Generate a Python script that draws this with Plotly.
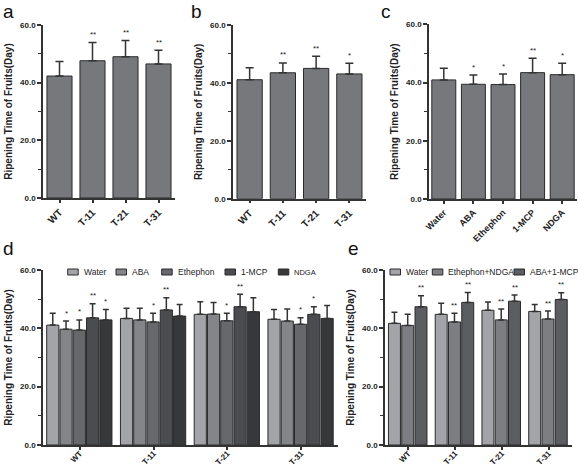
import plotly.graph_objects as go

W, H = 578, 467

# ---------------- data ----------------
lines = ["WT", "T-11", "T-21", "T-31"]
treat_c = ["Water", "ABA", "Ethephon", "1-MCP", "NDGA"]

a_val = [42.3, 47.6, 49.0, 46.5]
a_err = [5.0, 6.3, 5.6, 4.7]
a_sig = ["", "**", "**", "**"]

b_val = [41.1, 43.5, 45.0, 43.1]
b_err = [4.1, 3.4, 4.2, 3.7]
b_sig = ["", "**", "**", "*"]

c_val = [40.9, 39.4, 39.3, 43.4, 42.7]
c_err = [4.0, 3.2, 3.6, 4.9, 3.9]
c_sig = ["", "*", "*", "**", "*"]

d_water = [41.1, 43.4, 44.8, 43.1]
d_water_err = [4.1, 3.5, 4.3, 3.4]
d_water_sig = ["", "", "", ""]
d_aba = [39.7, 42.9, 44.9, 42.5]
d_aba_err = [2.8, 4.0, 4.0, 4.1]
d_aba_sig = ["*", "", "", ""]
d_eth = [39.4, 42.2, 42.6, 41.4]
d_eth_err = [3.5, 3.0, 2.6, 2.2]
d_eth_sig = ["*", "*", "*", "*"]
d_mcp = [43.6, 46.3, 47.4, 44.8]
d_mcp_err = [4.8, 4.2, 4.3, 2.6]
d_mcp_sig = ["**", "**", "**", "*"]
d_ndga = [42.9, 44.2, 45.7, 43.4]
d_ndga_err = [3.6, 4.0, 4.8, 4.4]
d_ndga_sig = ["*", "", "", ""]

e_water = [41.7, 44.8, 46.2, 45.8]
e_water_err = [3.8, 3.8, 2.8, 2.4]
e_water_sig = ["", "", "", ""]
e_ethndga = [41.0, 42.2, 42.9, 43.2]
e_ethndga_err = [3.8, 3.0, 3.7, 2.7]
e_ethndga_sig = ["", "**", "**", "**"]
e_abamcp = [47.4, 48.9, 49.3, 49.9]
e_abamcp_err = [3.8, 3.4, 2.1, 2.3]
e_abamcp_sig = ["**", "**", "**", "**"]

y_ticks = [0, 20, 40, 60]
y_ticklabels = ["0.0", "20.0", "40.0", "60.0"]
ytitle = "Ripening Time of Fruits(Day)"

# ---------------- styling ----------------
FONT = "Liberation Sans, Arial, sans-serif"
AX = "#333333"
OUTLINE = "#2a2a2a"
single_col = "#76787b"
d_cols = ["#a3a4a7", "#848588", "#67686b", "#4b4c4f", "#37383a"]
e_cols = ["#a3a4a7", "#7d7e81", "#5c5d60"]


def px_x(p):
    return p / W


def px_y(p):
    return 1 - p / H


panels = {
    # name: (x0, x1, ytop(60), ybottom(0), xtick font size, label standoff)
    "a": (43, 175, 25, 198, 10, 0),
    "b": (233, 366, 25, 198.7, 10, 0),
    "c": (429, 577, 24.3, 199, 9, 0),
    "d": (43, 338, 270, 445, 8, -4),
    "e": (385, 572, 270, 445, 8, -4),
}
axis_ids = {"a": "", "b": "2", "c": "3", "d": "4", "e": "5"}

fig = go.Figure()
annotations = []
shapes = []


def add_bars(panel, cats, vals, errs, sigs, color, name, width, offset, capw=4):
    i = axis_ids[panel]
    fig.add_trace(go.Bar(
        x=cats, y=vals, name=name,
        xaxis="x" + i, yaxis="y" + i,
        width=width, offset=offset,
        marker=dict(color=color, line=dict(color=OUTLINE, width=1)),
        error_y=dict(type="data", symmetric=False, array=errs,
                     arrayminus=[0] * len(errs), color=AX,
                     thickness=1.5, width=capw),
        showlegend=False,
    ))
    for k, (c, v, e, s) in enumerate(zip(cats, vals, errs, sigs)):
        if s:
            annotations.append(dict(
                x=k + offset + width / 2, y=v + e + 0.5,
                xref="x" + i, yref="y" + i,
                text=s, showarrow=False, yanchor="bottom",
                font=dict(family=FONT, size=8, color="#222"),
            ))


# single-series panels
add_bars("a", lines, a_val, a_err, a_sig, single_col, "a", 0.76, -0.38)
add_bars("b", lines, b_val, b_err, b_sig, single_col, "b", 0.76, -0.38)
add_bars("c", treat_c, c_val, c_err, c_sig, single_col, "c", 0.81, -0.405)

# grouped panel d
d_series = [
    ("Water", d_water, d_water_err, d_water_sig),
    ("ABA", d_aba, d_aba_err, d_aba_sig),
    ("Ethephon", d_eth, d_eth_err, d_eth_sig),
    ("1-MCP", d_mcp, d_mcp_err, d_mcp_sig),
    ("NDGA", d_ndga, d_ndga_err, d_ndga_sig),
]
pitch_d = 0.18
for j, (nm, v, e, s) in enumerate(d_series):
    add_bars("d", lines, v, e, s, d_cols[j], nm, 0.165,
             -2.5 * pitch_d + j * pitch_d, capw=3)

# grouped panel e
e_series = [
    ("Water", e_water, e_water_err, e_water_sig),
    ("Ethephon+NDGA", e_ethndga, e_ethndga_err, e_ethndga_sig),
    ("ABA+1-MCP", e_abamcp, e_abamcp_err, e_abamcp_sig),
]
pitch_e = 0.284
for j, (nm, v, e, s) in enumerate(e_series):
    add_bars("e", lines, v, e, s, e_cols[j], nm, 0.256,
             -1.5 * pitch_e + j * pitch_e, capw=3)

# ---------------- legends (drawn as swatches + text) ----------------
d_leg_box_x = [67.7, 116, 161.7, 225, 278.3]
d_leg_font = [8.5, 8.5, 8.5, 8.5, 7.5]
e_leg_box_x = [390, 432.3, 514]


def legend_entries(series, cols, box_xs, fonts, ymid=272, bw=10.5, bh=6):
    for (nm, *_), col, bx, fs in zip(series, cols, box_xs, fonts):
        shapes.append(dict(
            type="rect", xref="paper", yref="paper",
            x0=px_x(bx), x1=px_x(bx + bw),
            y0=px_y(ymid + bh / 2), y1=px_y(ymid - bh / 2),
            fillcolor=col, line=dict(color=OUTLINE, width=1),
        ))
        annotations.append(dict(
            x=px_x(bx + bw + 3.5), y=px_y(ymid), xref="paper", yref="paper",
            xanchor="left", yanchor="middle", text=nm, showarrow=False,
            font=dict(family=FONT, size=fs, color="#222"),
        ))


legend_entries(d_series, d_cols, d_leg_box_x, d_leg_font)
legend_entries(e_series, e_cols, e_leg_box_x, [8.5, 8.5, 8.5])

layout = dict(
    width=W, height=H,
    margin=dict(l=0, r=0, t=0, b=0, autoexpand=False),
    paper_bgcolor="white", plot_bgcolor="white",
    barmode="overlay",
    font=dict(family=FONT, color="#222"),
    showlegend=False,
)

for p, (x0, x1, yt, yb, xfs, xso) in panels.items():
    i = axis_ids[p]
    ncat = 5 if p == "c" else 4
    layout["xaxis" + i] = dict(
        domain=[px_x(x0), px_x(x1)], anchor="y" + i,
        range=[-0.5, ncat - 0.5],
        showline=True, linecolor=AX, linewidth=1.5,
        ticks="outside", ticklen=3, tickcolor=AX, tickwidth=1.5,
        tickangle=-45, showgrid=False, zeroline=False,
        ticklabelstandoff=xso,
        tickfont=dict(family=FONT, size=xfs, color="#222", weight="bold"),
        fixedrange=True,
    )
    layout["yaxis" + i] = dict(
        domain=[px_y(yb), px_y(yt)], anchor="x" + i,
        range=[0, 60],
        tickvals=y_ticks, ticktext=y_ticklabels,
        showline=True, linecolor=AX, linewidth=1.5,
        ticks="outside", ticklen=4, tickcolor=AX, tickwidth=1.5,
        minor=dict(ticks="outside", ticklen=3, tickcolor=AX, tickwidth=1.2,
                   tickvals=[10, 30, 50]),
        showgrid=False, zeroline=False,
        tickfont=dict(family=FONT, size=8, color="#222", weight="bold"),
        title=dict(text=ytitle, standoff=6,
                   font=dict(family=FONT, size=10, color="#222",
                             weight="bold")),
        fixedrange=True,
    )

for letter, xp, yp in [("a", 2, 0), ("b", 190, 0), ("c", 380, 0),
                       ("d", 2, 237), ("e", 347, 237)]:
    annotations.append(dict(
        x=px_x(xp), y=px_y(yp), xref="paper", yref="paper",
        xanchor="left", yanchor="top", text=letter, showarrow=False,
        borderpad=0,
        font=dict(family=FONT, size=19, color="#111"),
    ))

layout["annotations"] = annotations
layout["shapes"] = shapes
fig.update_layout(**layout)
fig.write_html(
    "out.html",
    config={"displayModeBar": False, "responsive": False},
    post_script="document.body.style.margin='0';"
                "document.body.style.overflow='hidden';",
)
